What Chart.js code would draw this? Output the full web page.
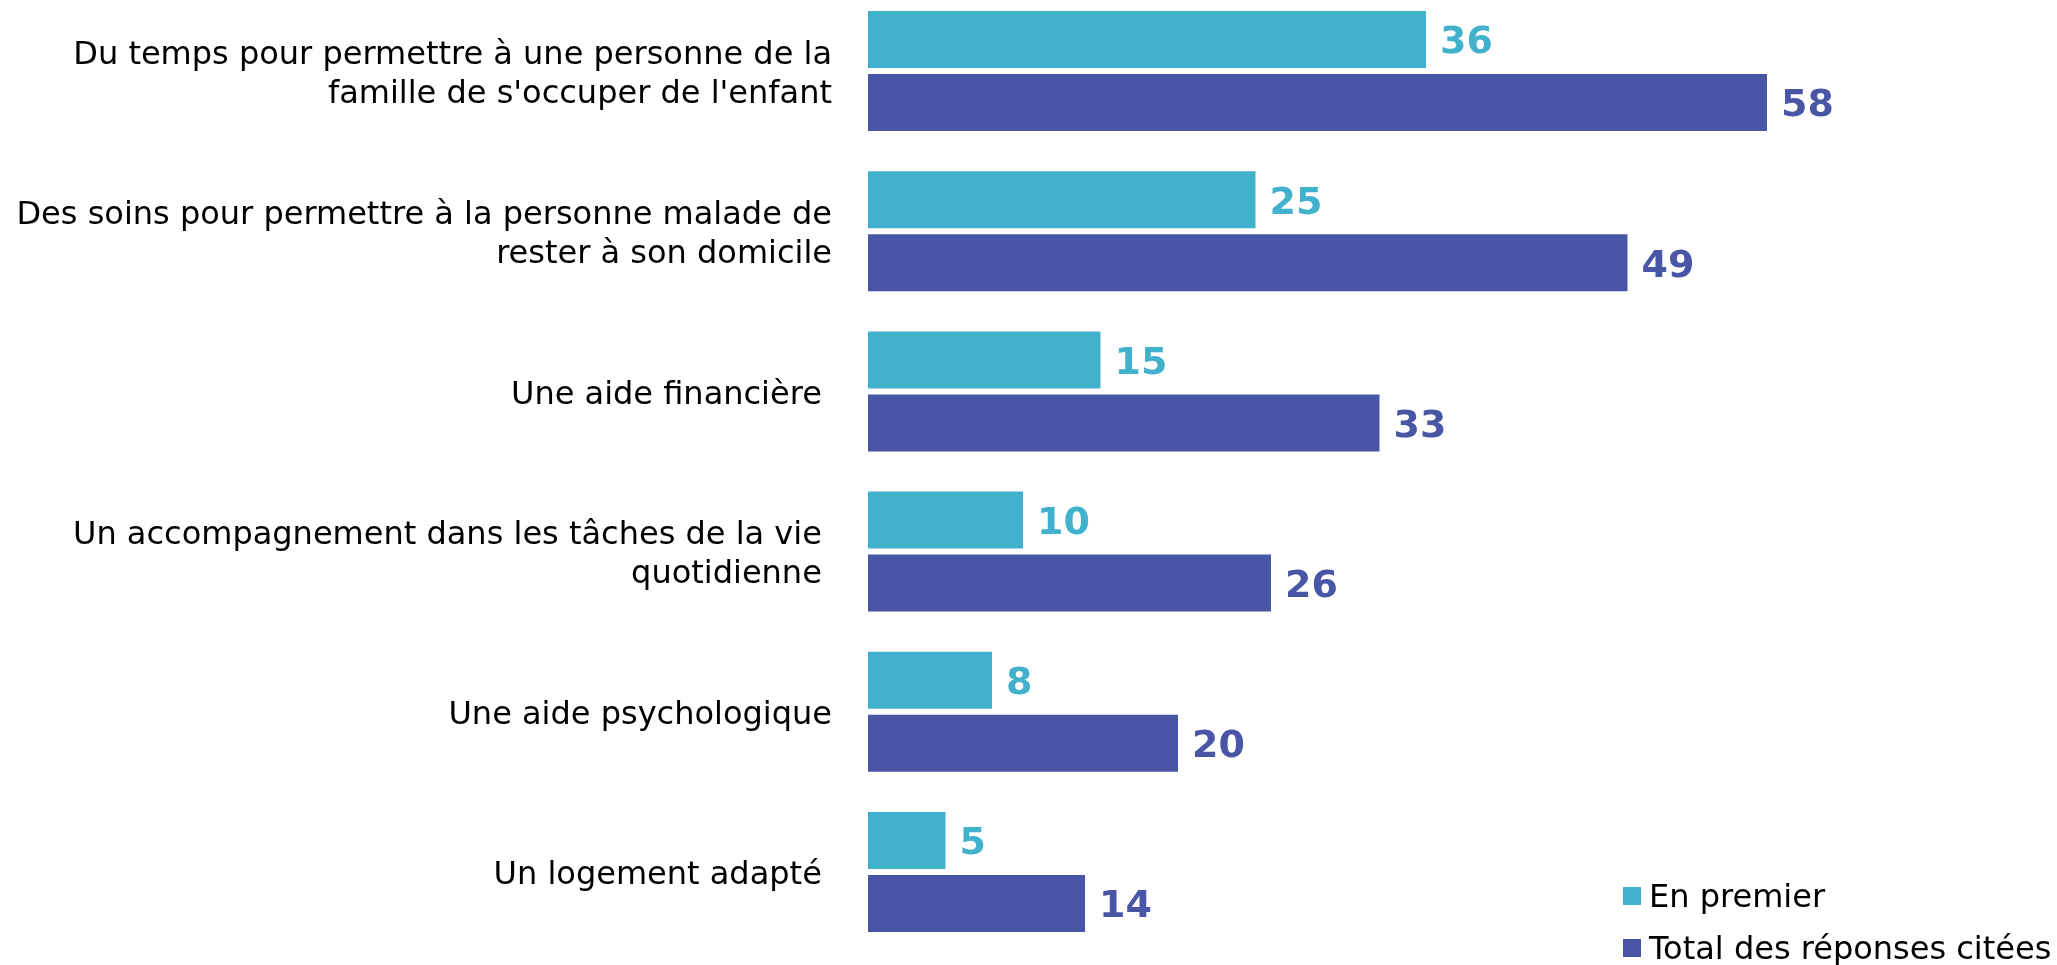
<!DOCTYPE html>
<html>
<head>
<meta charset="utf-8">
<script src="https://cdn.jsdelivr.net/npm/chart.js@4/dist/chart.umd.min.js"></script>
<style>
  html, body { margin: 0; padding: 0; background: #ffffff; overflow: hidden; }
  #wrap { position: absolute; left: 0; top: -9px; width: 2057px; height: 974px; }
</style>
</head>
<body>
<div id="wrap"><canvas id="c" width="2057" height="974"></canvas></div>
<script>
const categories = [
  ["Du temps pour permettre à une personne de la", "famille de s'occuper de l'enfant"],
  ["Des soins pour permettre à la personne malade de", "rester à son domicile"],
  "Une aide financière ",
  ["Un accompagnement dans les tâches de la vie ", "quotidienne "],
  "Une aide psychologique",
  "Un logement adapté "
];
const seriesNames = ["En premier", "Total des réponses citées"];
const enPremier = [36, 25, 15, 10, 8, 5];
const totalCitees = [58, 49, 33, 26, 20, 14];
const colors = ["#41B1CD", "#4856A5"];

const FONT = "'DejaVu Sans', Verdana, sans-serif";

const valueLabels = {
  id: 'valueLabels',
  afterDatasetsDraw(chart) {
    const ctx = chart.ctx;
    ctx.save();
    ctx.font = "bold 38px " + FONT;
    ctx.textBaseline = 'middle';
    ctx.textAlign = 'left';
    chart.data.datasets.forEach((ds, i) => {
      const meta = chart.getDatasetMeta(i);
      ctx.fillStyle = ds.backgroundColor;
      meta.data.forEach((bar, j) => {
        ctx.fillText(String(ds.data[j]), bar.x + 14, bar.y + 4);
      });
    });
    ctx.restore();
  }
};

const sideLegend = {
  id: 'sideLegend',
  afterDraw(chart) {
    const ctx = chart.ctx;
    ctx.save();
    ctx.font = "32px " + FONT;
    ctx.textBaseline = 'alphabetic';
    ctx.textAlign = 'left';
    const baselines = [916, 968];
    chart.data.datasets.forEach((ds, i) => {
      const b = baselines[i];
      ctx.fillStyle = ds.backgroundColor;
      ctx.fillRect(1623, b - 20, 18, 18);
      ctx.fillStyle = '#000000';
      ctx.fillText(ds.label, 1649, b);
    });
    ctx.restore();
  }
};

new Chart(document.getElementById('c'), {
  type: 'bar',
  data: {
    labels: categories,
    datasets: [
      { label: seriesNames[0], data: enPremier, backgroundColor: colors[0],
        categoryPercentage: 0.7865, barPercentage: 0.905 },
      { label: seriesNames[1], data: totalCitees, backgroundColor: colors[1],
        categoryPercentage: 0.7865, barPercentage: 0.905 }
    ]
  },
  options: {
    indexAxis: 'y',
    responsive: false,
    animation: false,
    layout: { padding: { top: 0, bottom: 13, left: 0, right: 104 } },
    plugins: {
      legend: { display: false },
      tooltip: { enabled: false }
    },
    scales: {
      x: {
        display: false,
        min: 0,
        max: 70
      },
      y: {
        grid: { display: false, drawTicks: false },
        border: { display: false },
        ticks: {
          color: '#000000',
          padding: 36,
          labelOffset: 4,
          font: { family: FONT, size: 32, lineHeight: 1.22 }
        },
        afterFit(scale) {
          scale.width = 868;
          scale.paddingTop = 0;
          scale.paddingBottom = 0;
        }
      }
    }
  },
  plugins: [valueLabels, sideLegend]
});
</script>
</body>
</html>
